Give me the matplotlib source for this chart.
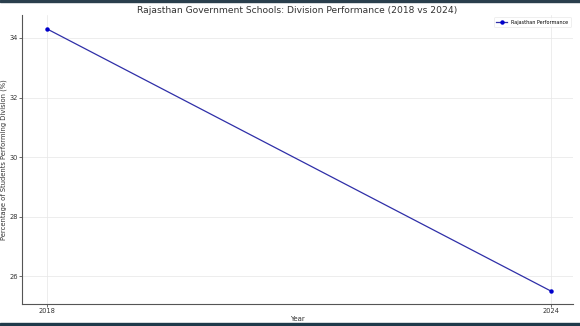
import matplotlib
matplotlib.use("Agg")
import matplotlib.pyplot as plt
from matplotlib.patches import Rectangle

# Data
years = [2018, 2024]
performance = [34.3, 25.5]
year_ticks = [2018, 2024]
y_ticks = [26, 28, 30, 32, 34]

fig = plt.figure(figsize=(5.8, 3.26), dpi=100)
ax = fig.add_axes([22 / 580, 22 / 326, 551 / 580, 289 / 326])

ax.plot(years, performance, marker='o', markersize=2.2, color='#2f2fa8',
        markerfacecolor='#0000cc', markeredgecolor='#0000cc', linewidth=0.9,
        label='Rajasthan Performance')

ax.set_xlim(2017.7, 2024.26)
ax.set_ylim(25.07, 34.77)
ax.set_xticks(year_ticks)
ax.set_yticks(y_ticks)
ax.tick_params(labelsize=4.8, length=2, width=0.5, pad=1.2, colors='#333333')
ax.grid(True, color='#e6e6e6', linewidth=0.5)

ax.spines['top'].set_visible(False)
ax.spines['right'].set_visible(False)
ax.spines['left'].set_color('#555555')
ax.spines['bottom'].set_color('#555555')
ax.spines['left'].set_linewidth(0.8)
ax.spines['bottom'].set_linewidth(0.8)

ax.set_title('Rajasthan Government Schools: Division Performance (2018 vs 2024)',
             fontsize=6.6, color='#333333', pad=1.5)
ax.set_xlabel('Year', fontsize=5, color='#333333', labelpad=1.2)
ax.set_ylabel('Percentage of Students Performing Division (%)', fontsize=4.9,
              color='#333333', labelpad=1.2)

leg = ax.legend(loc='upper right', fontsize=3.5, frameon=True, handlelength=2.2,
                borderpad=0.5, bbox_to_anchor=(1.0, 1.0))
leg.get_frame().set_linewidth(0.4)
leg.get_frame().set_edgecolor('#dddddd')

# thin dark bands at top and bottom edges (screenshot border)
fig.patches.append(Rectangle((0, 0), 1, 3 / 326, transform=fig.transFigure,
                             color='#1f3a4a', zorder=10))
fig.patches.append(Rectangle((0, 1 - 2 / 326), 1, 2 / 326, transform=fig.transFigure,
                             color='#2a3f4d', zorder=10))

fig.savefig('out.png', dpi=100)
